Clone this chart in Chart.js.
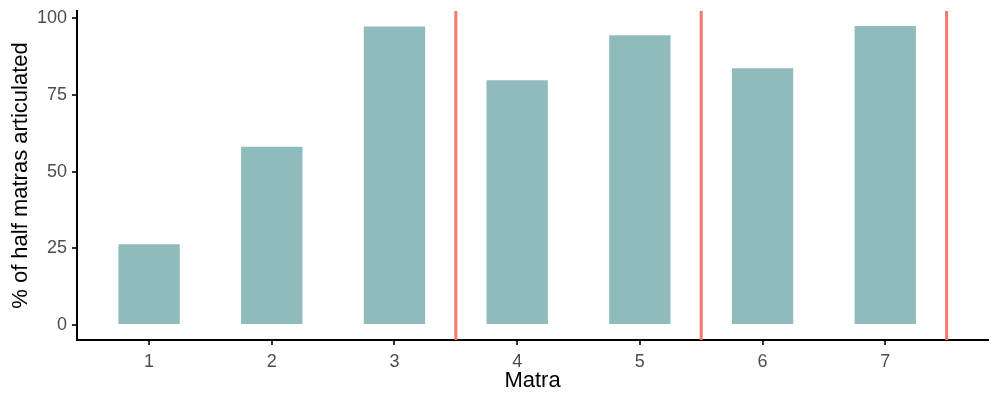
<!DOCTYPE html>
<html>
<head>
<meta charset="utf-8">
<script src="https://cdn.jsdelivr.net/npm/chart.js@4"></script>
<style>
  body { margin: 0; background: #fff; }
  #wrap { width: 1000px; height: 400px; }
</style>
</head>
<body>
<div id="wrap"><canvas id="myChart"></canvas></div>
<script>
// values
const matras = [1, 2, 3, 4, 5, 6, 7]
const percents = [26.3, 58.1, 97.3, 79.8, 94.5, 83.7, 97.5]
const dividers = [3.5, 5.5, 7.5]
const yTicks = [0, 25, 50, 75, 100]

// ggplot-like 5% expansion
let yHi = Math.max(...percents)
let yPad = yHi * 0.05
let xLo = 0.75, xHi = 7.5
let xPad = (xHi - xLo) * 0.05

const vlinePlugin = {
    id: 'vlines',
    afterDatasetsDraw(chart) {
        const {ctx, chartArea, scales} = chart
        ctx.save()
        ctx.strokeStyle = '#F8766D'
        ctx.lineWidth = 3
        dividers.forEach(v => {
            let px = scales.x.getPixelForValue(v)
            ctx.beginPath()
            ctx.moveTo(px, chartArea.top)
            ctx.lineTo(px, chartArea.bottom)
            ctx.stroke()
        })
        ctx.restore()
    }
}

const data = {
    datasets: [{
        label: '% of half matras articulated',
        data: matras.map((m, i) => ({x: m, y: percents[i]})),
        backgroundColor: '#90BBBC',
        borderWidth: 0,
        barPercentage: 0.5,
        categoryPercentage: 1
    }]
}

const config = {
    type: 'bar',
    data: data,
    plugins: [vlinePlugin],
    options: {
        responsive: true,
        maintainAspectRatio: false,
        animation: false,
        layout: { padding: { top: 11, right: 12, left: 0, bottom: 0 } },
        plugins: {
            legend: { display: false },
            tooltip: { enabled: false }
        },
        scales: {
            x: {
                type: 'linear',
                offset: false,
                min: xLo - xPad,
                max: xHi + xPad,
                afterBuildTicks: s => { s.ticks = matras.map(v => ({value: v})) },
                afterFit: s => { s.height = 60; s.paddingLeft = 0; s.paddingRight = 0 },
                border: { display: true, color: '#000', width: 2 },
                grid: { offset: false, drawOnChartArea: false, drawTicks: true, tickLength: 5, color: '#333', lineWidth: 2 },
                ticks: {
                    color: '#4D4D4D',
                    padding: 6,
                    font: { family: 'Liberation Sans, Arial', size: 18 }
                },
                title: {
                    display: true,
                    text: 'Matra',
                    color: '#000',
                    padding: { top: 0, bottom: 6 },
                    font: { family: 'Liberation Sans, Arial', size: 22 }
                }
            },
            y: {
                min: -yPad,
                max: yHi + yPad,
                afterBuildTicks: s => { s.ticks = yTicks.map(v => ({value: v})) },
                afterFit: s => { s.width = 77; s.paddingTop = 0; s.paddingBottom = 0 },
                border: { display: true, color: '#000', width: 2 },
                grid: { drawOnChartArea: false, drawTicks: true, tickLength: 5, color: '#333', lineWidth: 2 },
                ticks: {
                    color: '#4D4D4D',
                    padding: 5,
                    font: { family: 'Liberation Sans, Arial', size: 18 }
                },
                title: {
                    display: true,
                    text: '% of half matras articulated',
                    color: '#000',
                    padding: { top: 8, bottom: 0 },
                    font: { family: 'Liberation Sans, Arial', size: 22 }
                }
            }
        }
    }
}
new Chart(document.getElementById('myChart'), config)
</script>
</body>
</html>
